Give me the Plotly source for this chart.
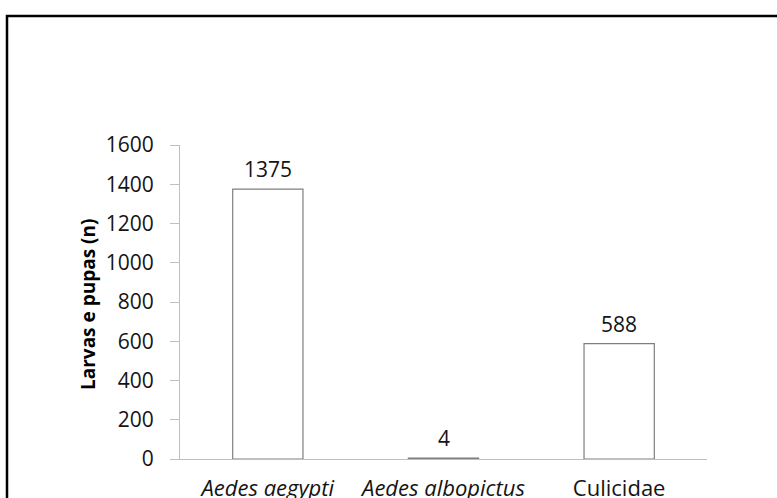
import plotly.graph_objects as go

# Counts of larvae and pupae collected per taxon
categories = ["Aedes aegypti", "Aedes albopictus", "Culicidae"]
tick_labels = ["<i>Aedes aegypti</i>", "<i>Aedes albopictus</i>", "Culicidae"]
counts = [1375, 4, 588]
y_ticks = [0, 200, 400, 600, 800, 1000, 1200, 1400, 1600]

W, H = 777, 498
L, R, T, B = 180, 70, 145, 39
plot_w = W - L - R
plot_h = H - T - B

FONT = "Open Sans"
TXT = "#141414"

fig = go.Figure()
fig.add_trace(go.Bar(
    x=categories,
    y=counts,
    marker=dict(color="white", line=dict(color="#7f7f7f", width=1.2)),
    width=0.4,
    hoverinfo="skip",
))

# value labels above each bar
for c, v in zip(categories, counts):
    fig.add_annotation(
        x=c, y=v, xref="x", yref="y",
        text=str(v), showarrow=False,
        yanchor="bottom", yshift=4,
        font=dict(family=FONT, size=21, color=TXT),
    )

# y-axis title
fig.add_annotation(
    xref="paper", yref="paper",
    x=(88 - L) / plot_w, y=(H - B - 305) / plot_h,
    text="<b>Larvas e pupas (n)</b>", textangle=-90,
    showarrow=False, xanchor="center", yanchor="middle",
    font=dict(family=FONT, size=19, color="#000000"),
)

# outer frame around the chart
def px_x(p):
    return (p - L) / plot_w

def px_y(p):
    return (H - B - p) / plot_h

fig.add_shape(
    type="rect", xref="paper", yref="paper",
    x0=px_x(7), x1=px_x(800), y0=px_y(16), y1=px_y(520),
    line=dict(color="black", width=2.5), fillcolor="rgba(0,0,0,0)",
)

fig.update_layout(
    width=W, height=H,
    margin=dict(l=L, r=R, t=T, b=B, autoexpand=False),
    paper_bgcolor="white", plot_bgcolor="white",
    showlegend=False,
    bargap=0.6,
)
fig.update_xaxes(
    type="category",
    tickvals=categories, ticktext=tick_labels,
    showline=True, linecolor="#bfbfbf", linewidth=1.2,
    ticks="", showgrid=False, zeroline=False,
    ticklabelstandoff=9,
    tickfont=dict(family=FONT, size=22, color=TXT),
)
fig.update_yaxes(
    range=[0, 1600], tickvals=y_ticks,
    showline=True, linecolor="#bfbfbf", linewidth=1.2,
    ticks="outside", ticklen=9, tickcolor="#bfbfbf", tickwidth=1.2,
    showgrid=False, zeroline=False,
    ticklabelstandoff=12,
    tickfont=dict(family=FONT, size=21, color=TXT),
)

fig.write_html("out.html")
